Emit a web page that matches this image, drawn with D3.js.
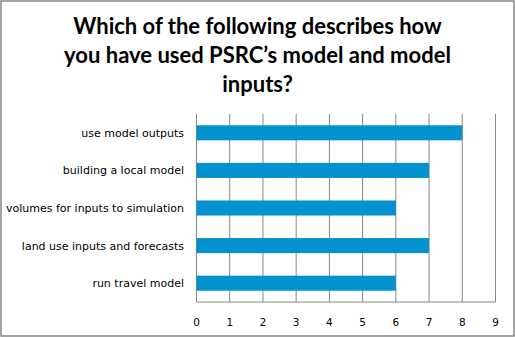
<!DOCTYPE html>
<html>
<head>
<meta charset="utf-8">
<script src="https://cdn.jsdelivr.net/npm/d3@7"></script>
<style>
  body { margin: 0; background: #fff; }
</style>
</head>
<body>
<script>
// data
const categories = ["use model outputs", "building a local model", "volumes for inputs to simulation", "land use inputs and forecasts", "run travel model"]
const values = [8, 7, 6, 7, 6]
const xTicks = [0, 1, 2, 3, 4, 5, 6, 7, 8, 9]
const titleLines = ["Which of the following describes how", "you have used PSRC\u2019s model and model", "inputs?"]

const W = 515, H = 337
const plot = { left: 196.5, right: 495.5, top: 114, bottom: 302 }

const svg = d3.select("body").append("svg")
    .attr("width", W)
    .attr("height", H)

// outer border
svg.append("rect")
    .attr("x", 1).attr("y", 1)
    .attr("width", W - 2).attr("height", H - 2)
    .attr("fill", "#fff")
    .attr("stroke", "#868686")
    .attr("stroke-width", 1.5)

// title
svg.append("g").selectAll("text")
    .data(titleLines)
    .join("text")
    .attr("x", W / 2)
    .attr("y", (d, i) => 34 + i * 29)
    .attr("text-anchor", "middle")
    .style("font-family", "Lato, 'Open Sans', sans-serif")
    .style("font-weight", "bold")
    .style("font-size", "22px")
    .attr("fill", "#000")
    .text(d => d)

const x = d3.scaleLinear().domain([0, 9]).range([plot.left, plot.right])
const y = d3.scaleBand().domain(categories).range([plot.top, plot.bottom])
    .paddingInner(0.6).paddingOuter(0.3)

// grid lines
svg.append("g").selectAll("line")
    .data(xTicks)
    .join("line")
    .attr("x1", d => x(d)).attr("x2", d => x(d))
    .attr("y1", plot.top).attr("y2", plot.bottom)
    .attr("stroke", "#868686")
    .attr("stroke-width", 1)

// bars
svg.append("g").selectAll("rect")
    .data(categories)
    .join("rect")
    .attr("x", x(0))
    .attr("y", d => y(d))
    .attr("width", (d, i) => x(values[i]) - x(0))
    .attr("height", y.bandwidth())
    .attr("fill", "#0392cf")

// bottom axis line
svg.append("line")
    .attr("x1", plot.left).attr("x2", plot.right)
    .attr("y1", plot.bottom).attr("y2", plot.bottom)
    .attr("stroke", "#868686")

// x tick labels
svg.append("g").selectAll("text")
    .data(xTicks)
    .join("text")
    .attr("x", d => x(d))
    .attr("y", 326)
    .attr("text-anchor", "middle")
    .style("font-family", "'DejaVu Sans', sans-serif")
    .style("font-size", "10.5px")
    .attr("fill", "#000")
    .text(d => d)

// category labels
svg.append("g").selectAll("text")
    .data(categories)
    .join("text")
    .attr("x", 184)
    .attr("y", d => y(d) + y.bandwidth() / 2 + 4)
    .attr("text-anchor", "end")
    .style("font-family", "'DejaVu Sans', sans-serif")
    .style("font-size", "11px")
    .attr("fill", "#000")
    .text(d => d)
</script>
</body>
</html>
